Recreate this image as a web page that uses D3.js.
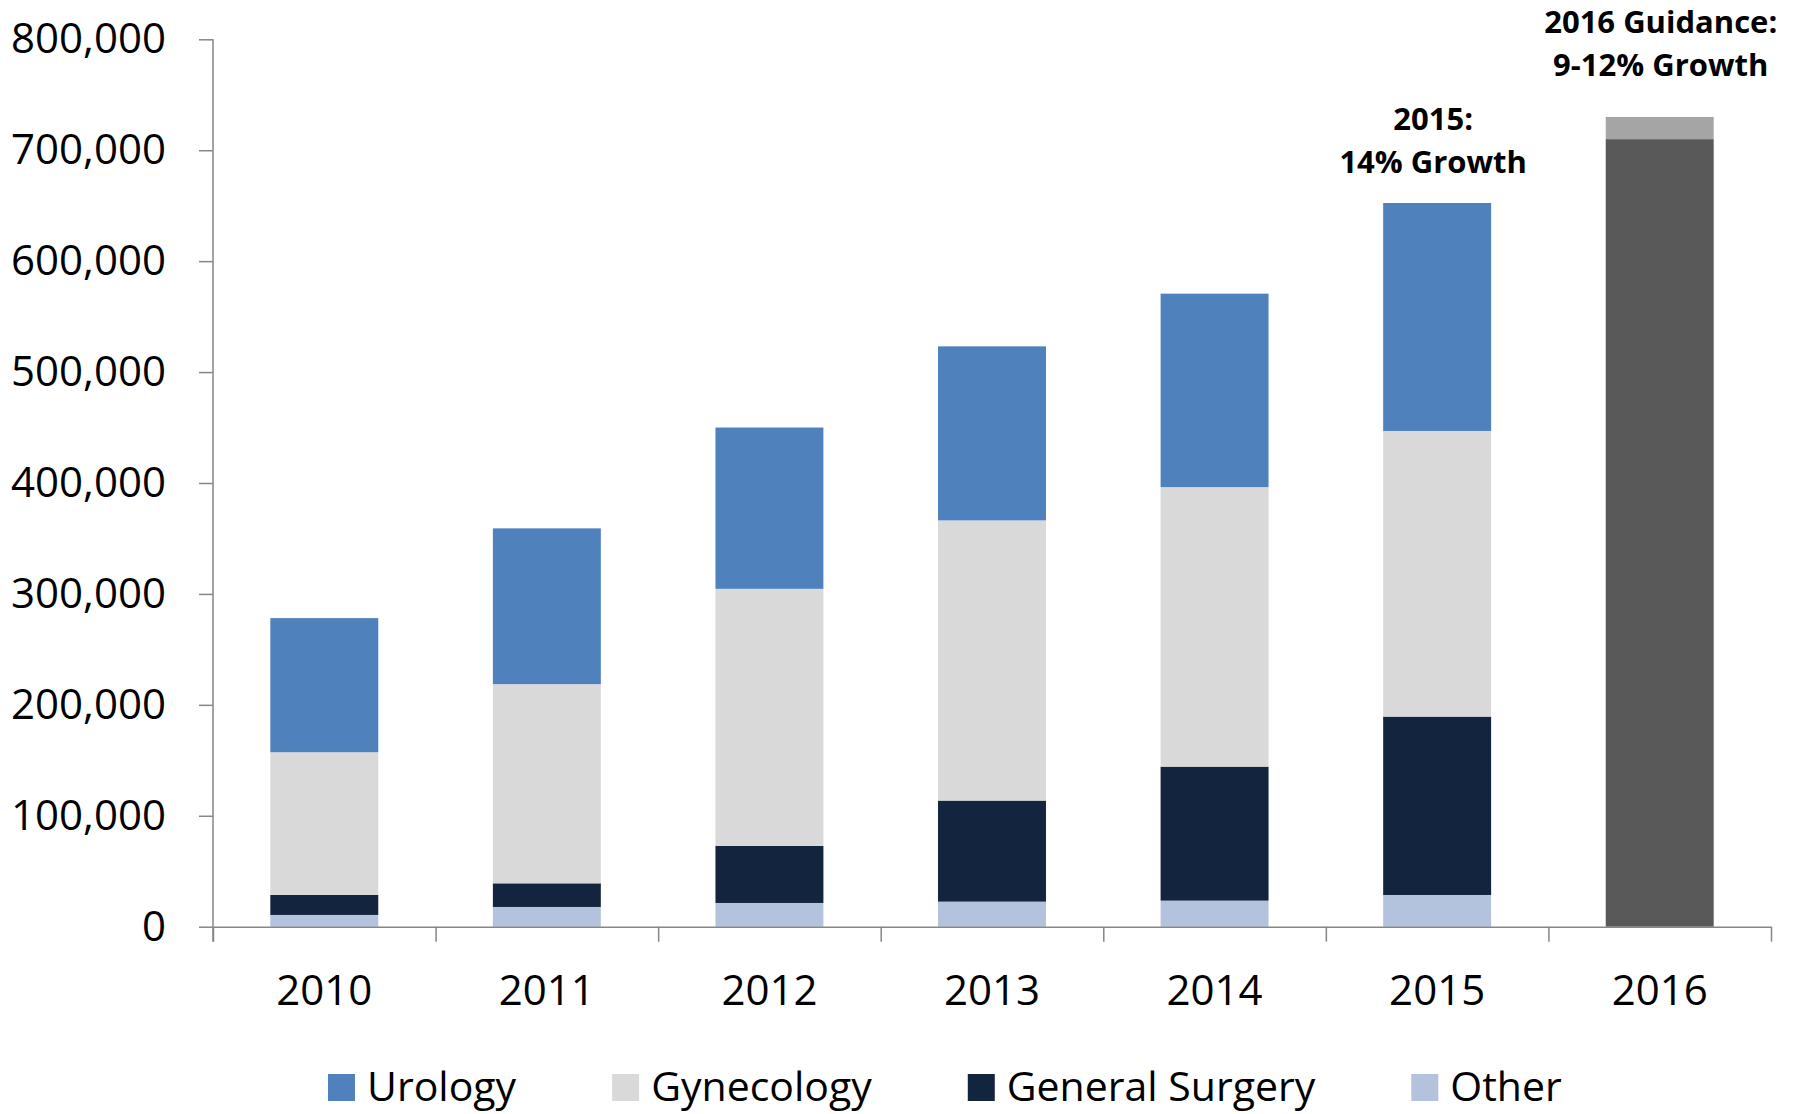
<!DOCTYPE html>
<html>
<head>
<meta charset="utf-8">
<script src="https://cdn.jsdelivr.net/npm/d3@7"></script>
<style>
  body { margin: 0; background: #fff; }
  text { font-family: "Open Sans", sans-serif; fill: #000; }
  .axis path, .axis line { stroke: #868686; stroke-width: 1.5; }
  .note { font-weight: bold; font-size: 31px; text-anchor: middle; }
</style>
</head>
<body>
<div id="chart"></div>
<script>
// Chart data
var years = ["2010", "2011", "2012", "2013", "2014", "2015", "2016"];
var seriesNames = ["Other", "General Surgery", "Gynecology", "Urology"];
var other = [10600, 17800, 21400, 22600, 23500, 28600];
var generalSurgery = [18000, 21300, 51400, 91100, 120800, 160800];
var gynecology = [128700, 179600, 231800, 252600, 252000, 257500];
var urology = [120900, 140400, 145400, 156900, 174400, 205500];
var guidanceLow = [710000];
var guidanceHigh = [730000];
var yTicks = [0, 100000, 200000, 300000, 400000, 500000, 600000, 700000, 800000];
var legendOrder = ["Urology", "Gynecology", "General Surgery", "Other"];

var colors = {
  "Urology": "#4f81bd",
  "Gynecology": "#d9d9d9",
  "General Surgery": "#13243e",
  "Other": "#b3c3de"
};

// SVG setup
var width = 1794;
var height = 1114;
var left = 213, right = 1771;
var top0 = 39.3, bottom0 = 926.7;

var svg = d3.select("#chart")
    .append("svg")
    .attr("width", width)
    .attr("height", height);

// scales
var xScale = d3.scaleBand()
    .domain(years)
    .range([left, right])
    .paddingInner(0.515)
    .paddingOuter(0.2575);

var yScale = d3.scaleLinear()
    .domain([0, 800000])
    .range([bottom0, top0]);

// build rows for stacking
var rows = years.slice(0, 6).map(function(y, i) {
  return {
    year: y,
    "Other": other[i],
    "General Surgery": generalSurgery[i],
    "Gynecology": gynecology[i],
    "Urology": urology[i]
  };
});
var stacked = d3.stack().keys(seriesNames)(rows);

// y axis
var yAxis = d3.axisLeft(yScale)
    .tickValues(yTicks)
    .tickFormat(d3.format(","))
    .tickSize(14)
    .tickSizeOuter(0)
    .tickPadding(33);

svg.append("g")
    .attr("class", "axis yAxis")
    .attr("transform", `translate(${left}, 0)`)
    .call(yAxis)
    .call(function(g) {
      g.select(".domain").attr("d", `M0,${top0}V${bottom0 + 15}`);
      g.selectAll("text").attr("font-size", 42).attr("fill", "#000");
    });

// stacked bars
var layers = svg.append("g").selectAll("g")
    .data(stacked)
    .enter()
    .append("g")
    .attr("fill", function(d) { return colors[d.key]; });

layers.selectAll("rect")
    .data(function(d) { return d; })
    .enter()
    .append("rect")
    .attr("x", function(d) { return xScale(d.data.year); })
    .attr("width", xScale.bandwidth())
    .attr("y", function(d) { return yScale(d[1]); })
    .attr("height", function(d) { return yScale(d[0]) - yScale(d[1]); });

// 2016 guidance bar
svg.append("rect")
    .attr("x", xScale("2016"))
    .attr("width", xScale.bandwidth())
    .attr("y", yScale(guidanceLow[0]))
    .attr("height", yScale(0) - yScale(guidanceLow[0]))
    .attr("fill", "#595959");

svg.append("rect")
    .attr("x", xScale("2016"))
    .attr("width", xScale.bandwidth())
    .attr("y", yScale(guidanceHigh[0]))
    .attr("height", yScale(guidanceLow[0]) - yScale(guidanceHigh[0]))
    .attr("fill", "#a5a5a5");

// x axis: boundary ticks
var xEdge = d3.scaleLinear().domain([0, years.length]).range([left, right]);
svg.append("g")
    .attr("class", "axis xAxis")
    .attr("transform", `translate(0, ${bottom0})`)
    .call(d3.axisBottom(xEdge)
      .tickValues(d3.range(years.length + 1))
      .tickFormat("")
      .tickSize(15)
      .tickSizeOuter(0));

// x axis labels
svg.append("g")
    .attr("class", "xLabels")
    .attr("transform", `translate(0, ${bottom0})`)
    .call(d3.axisBottom(xScale).tickSize(0).tickPadding(48))
    .call(function(g) {
      g.select(".domain").remove();
      g.selectAll("text").attr("font-size", 42).attr("fill", "#000");
    });

// annotations
var cx2015 = xScale("2015") + xScale.bandwidth() / 2;
var cx2016 = xScale("2016") + xScale.bandwidth() / 2 + 1;
svg.append("text").attr("class", "note").attr("x", cx2015 - 4).attr("y", 130).text("2015:");
svg.append("text").attr("class", "note").attr("x", cx2015 - 4).attr("y", 173).text("14% Growth");
svg.append("text").attr("class", "note").attr("x", cx2016).attr("y", 33).text("2016 Guidance:");
svg.append("text").attr("class", "note").attr("x", cx2016).attr("y", 76).text("9-12% Growth");

// legend
var legend = svg.append("g").attr("class", "legend");
var lx = 328;
legendOrder.forEach(function(name) {
  legend.append("rect")
      .attr("x", lx)
      .attr("y", 1074)
      .attr("width", 27)
      .attr("height", 27)
      .attr("fill", colors[name]);
  var t = legend.append("text")
      .attr("x", lx + 39)
      .attr("y", 1101)
      .attr("font-size", 41)
      .text(name);
  lx = lx + 39 + t.node().getComputedTextLength() + 96;
});
</script>
</body>
</html>
